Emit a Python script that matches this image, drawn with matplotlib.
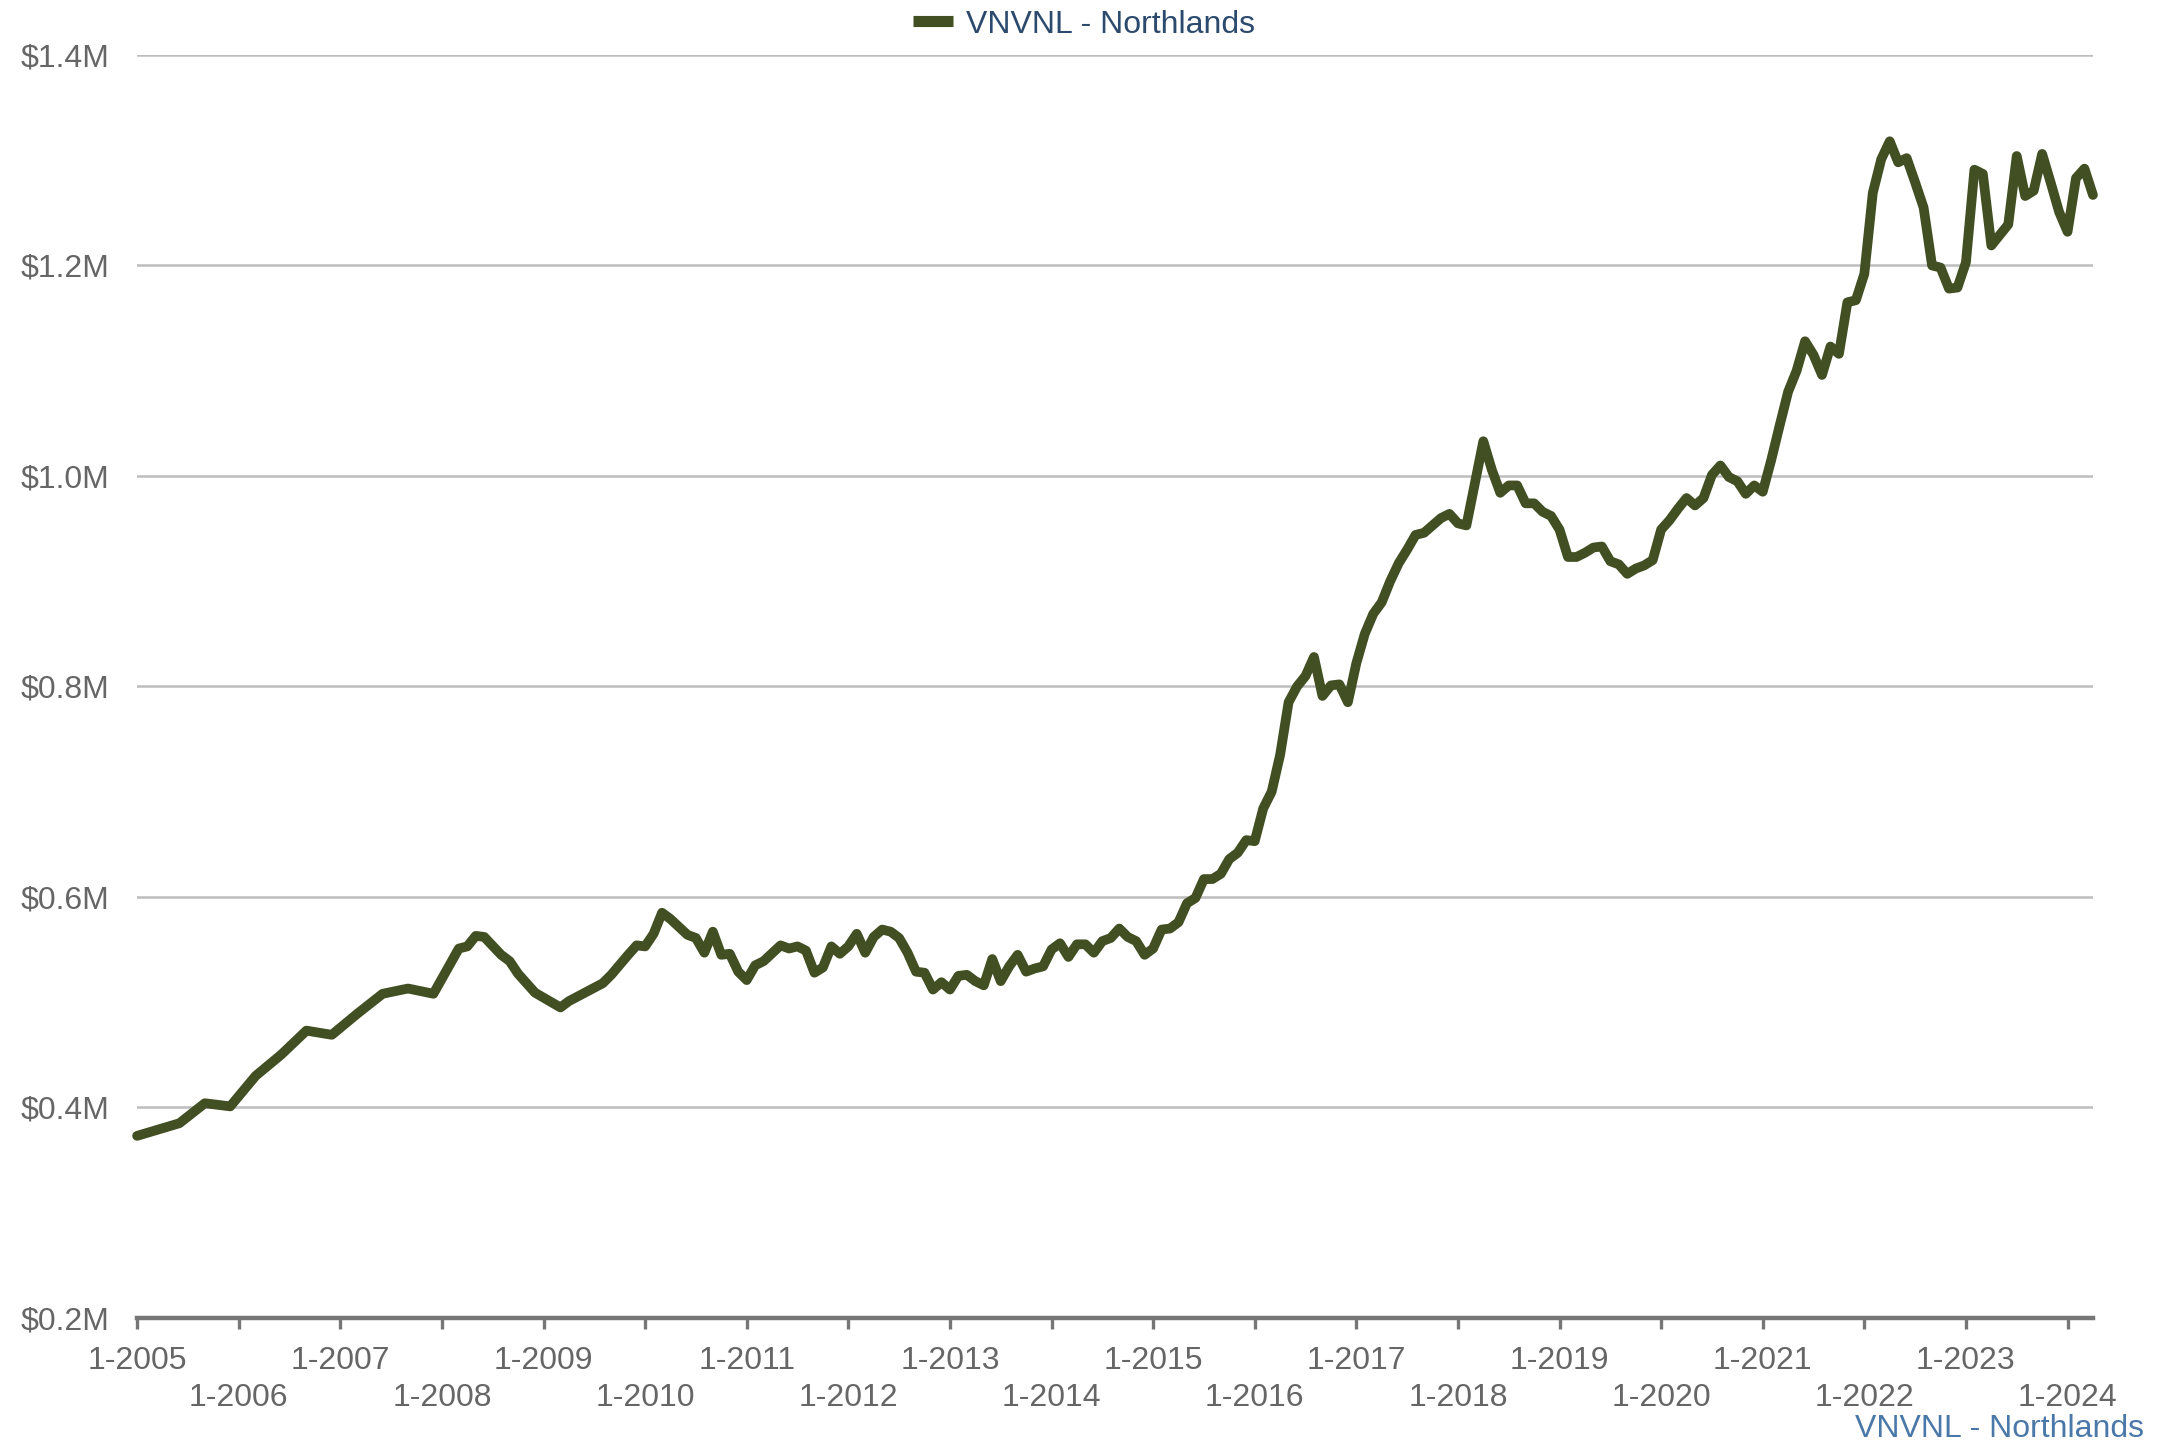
import matplotlib
matplotlib.use("Agg")
import numpy as np
import matplotlib.pyplot as plt
from matplotlib.lines import Line2D

plt.rcParams['font.family'] = ['Liberation Sans', 'DejaVu Sans']

series_name = 'VNVNL - Northlands'

# months counted from 1-2005
months = [0, 5, 8, 11, 14, 17, 20, 23, 26, 29, 32, 35, 38, 39, 40, 41, 43, 44, 45, 47,
          50, 51, 55, 56, 58, 59, 60, 61, 62, 63, 65, 66, 67, 68, 69, 70, 71, 72, 73, 74,
          76, 77, 78, 79, 80, 81, 82, 83, 84, 85, 86, 87, 88, 89, 90, 91, 92, 93, 94, 95,
          96, 97, 98, 99, 100, 101, 102, 103, 104, 105, 106, 107, 108, 109, 110, 111, 112, 113, 114, 115,
          116, 117, 118, 119, 120, 121, 122, 123, 124, 125, 126, 127, 128, 129, 130, 131, 132, 133, 134, 135,
          136, 137, 138, 139, 140, 141, 142, 143, 144, 145, 146, 147, 148, 149, 150, 151, 152, 153, 154, 155,
          156, 157, 158, 159, 160, 161, 162, 163, 164, 165, 166, 167, 168, 169, 170, 171, 172, 173, 174, 175,
          176, 177, 178, 179, 180, 181, 182, 183, 184, 185, 186, 187, 188, 189, 190, 191, 192, 193, 194, 195,
          196, 197, 198, 199, 200, 201, 202, 203, 204, 205, 206, 207, 208, 209, 210, 211, 212, 213, 214, 215,
          216, 217, 218, 219, 220, 221, 222, 223, 224, 225, 226, 227, 228, 229, 230, 231]

# median price, $M
price_m = [0.373, 0.385, 0.404, 0.401, 0.430, 0.450, 0.473, 0.469, 0.489, 0.508, 0.513, 0.508, 0.551, 0.553, 0.563, 0.562, 0.545, 0.539, 0.527, 0.509,
           0.495, 0.501, 0.518, 0.526, 0.545, 0.554, 0.553, 0.565, 0.585, 0.579, 0.564, 0.561, 0.547, 0.567, 0.545, 0.546, 0.529, 0.521, 0.535, 0.539,
           0.554, 0.551, 0.553, 0.549, 0.528, 0.533, 0.553, 0.546, 0.553, 0.565, 0.547, 0.562, 0.569, 0.567, 0.561, 0.547, 0.529, 0.528, 0.512, 0.519,
           0.512, 0.525, 0.526, 0.520, 0.516, 0.541, 0.520, 0.534, 0.545, 0.529, 0.532, 0.534, 0.550, 0.556, 0.543, 0.555, 0.555, 0.547, 0.558, 0.561,
           0.570, 0.562, 0.558, 0.545, 0.551, 0.569, 0.570, 0.576, 0.594, 0.599, 0.617, 0.617, 0.622, 0.636, 0.642, 0.654, 0.653, 0.684, 0.700, 0.735,
           0.785, 0.800, 0.810, 0.828, 0.791, 0.801, 0.802, 0.785, 0.822, 0.850, 0.869, 0.880, 0.900, 0.917, 0.930, 0.944, 0.946, 0.953, 0.960, 0.964,
           0.955, 0.953, 0.993, 1.033, 1.006, 0.984, 0.991, 0.991, 0.974, 0.974, 0.966, 0.962, 0.949, 0.923, 0.923, 0.927, 0.932, 0.933, 0.919, 0.916,
           0.907, 0.912, 0.915, 0.920, 0.949, 0.958, 0.969, 0.979, 0.972, 0.979, 1.001, 1.010, 0.999, 0.995, 0.983, 0.991, 0.985, 1.015, 1.048, 1.080,
           1.100, 1.128, 1.115, 1.096, 1.123, 1.116, 1.165, 1.167, 1.192, 1.269, 1.301, 1.318, 1.298, 1.302, 1.279, 1.255, 1.200, 1.198, 1.178, 1.179,
           1.203, 1.291, 1.287, 1.219, 1.229, 1.239, 1.304, 1.266, 1.271, 1.306, 1.279, 1.251, 1.232, 1.283, 1.292, 1.267]

years = list(range(2005, 2025))
y_ticks = [0.2, 0.4, 0.6, 0.8, 1.0, 1.2, 1.4]

line_color = '#414f22'
text_gray = '#666666'

fig = plt.figure(figsize=(21.59, 14.47), dpi=100)
ax = fig.add_axes([0.0635, 0.0892, 0.9059, 0.8728])

ax.plot(months, price_m, color=line_color, lw=7, solid_joinstyle='round',
        solid_capstyle='round', clip_on=False, zorder=3)

ax.set_xlim(0, months[-1])
ax.set_ylim(0.2, 1.4)

# x ticks: one per January, labels on two staggered rows
ax.set_xticks([(y - 2005) * 12 for y in years])
xlabels = []
for i, y in enumerate(years):
    if i % 2 == 0:
        xlabels.append('1-%d' % y)
    else:
        xlabels.append('\n1-%d' % y)
ax.set_xticklabels(xlabels, linespacing=1.3)

ax.set_yticks(y_ticks)
ax.set_yticklabels(['$%.1fM' % v for v in y_ticks])

ax.yaxis.grid(True, color='#bdbdbd', lw=1.8)
ax.set_axisbelow(True)
for s in ['top', 'right', 'left']:
    ax.spines[s].set_visible(False)
ax.spines['bottom'].set_color('#767676')
ax.spines['bottom'].set_linewidth(3.2)
ax.spines['bottom'].set_zorder(4)

ax.tick_params(axis='x', length=8, width=2.4, color='#767676', labelsize=23,
               labelcolor=text_gray, pad=12)
ax.tick_params(axis='y', length=0, pad=20, labelsize=23, labelcolor=text_gray)

handle = Line2D([], [], color=line_color, lw=8, solid_capstyle='butt')
fig.legend(handles=[handle], labels=[series_name], loc='center',
           bbox_to_anchor=(0.502, 0.983), frameon=False, fontsize=23,
           handlelength=1.25, handletextpad=0.4, labelcolor='#2c4a6e')

fig.text(0.993, 0.0124, series_name, ha='right', va='center', fontsize=23,
         color='#4a78a8')

fig.savefig('out.png', dpi=100)
